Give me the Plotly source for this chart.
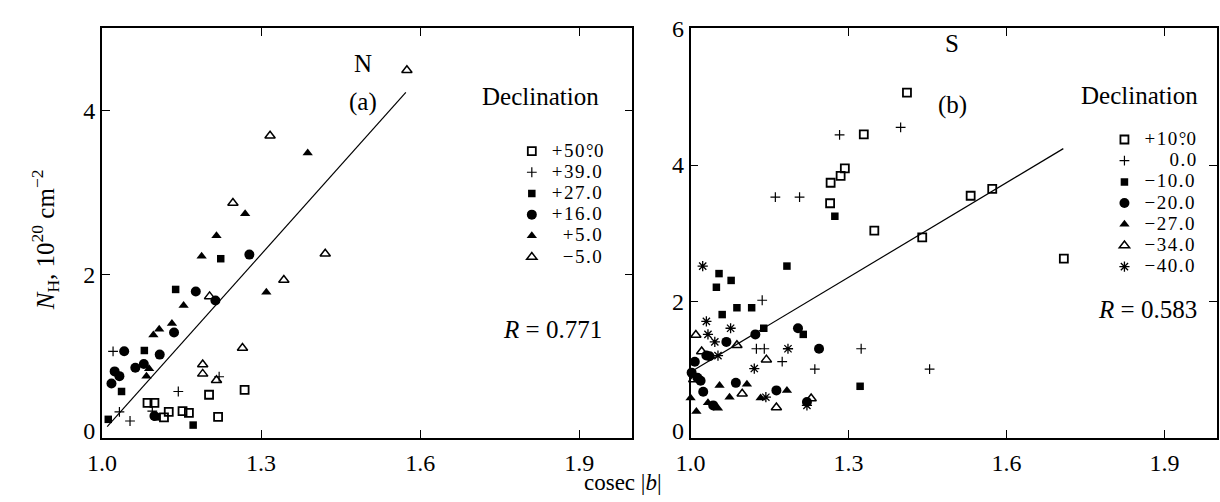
import plotly.graph_objects as go

# ---------------- Panel (a): North ----------------
N_p50_x = [1.086, 1.099, 1.117, 1.126, 1.152, 1.164, 1.202, 1.219, 1.269]
N_p50_y = [0.43, 0.43, 0.255, 0.32, 0.33, 0.31, 0.53, 0.26, 0.59]
N_p39_x = [1.021, 1.033, 1.053, 1.095, 1.144, 1.221]
N_p39_y = [1.06, 0.32, 0.21, 0.33, 0.57, 0.75]
N_p27_x = [1.139, 1.080, 1.037, 1.103, 1.172, 1.012, 1.224]
N_p27_y = [1.815, 1.07, 0.57, 0.26, 0.16, 0.23, 2.19]
N_p16_x = [1.177, 1.214, 1.136, 1.042, 1.109, 1.079, 1.063, 1.024, 1.033, 1.018, 1.099, 1.278]
N_p16_y = [1.79, 1.68, 1.29, 1.06, 1.02, 0.906, 0.86, 0.815, 0.757, 0.667, 0.27, 2.24]
N_p5_x = [1.154, 1.132, 1.108, 1.097, 1.089, 1.084, 1.388, 1.270, 1.216, 1.188, 1.310]
N_p5_y = [1.62, 1.40, 1.33, 1.26, 0.847, 0.757, 3.48, 2.74, 2.47, 2.22, 1.78]
N_m5_x = [1.203, 1.265, 1.19, 1.19, 1.216, 1.575, 1.317, 1.247, 1.421, 1.343]
N_m5_y = [1.73, 1.10, 0.90, 0.785, 0.706, 4.49, 3.69, 2.87, 2.25, 1.93]
N_fit_x = [1.01, 1.573]
N_fit_y = [0.14, 4.22]
N_labels = ["+50<span style='letter-spacing:-6px'>\u00b0</span>.0", "+39.0", "+27.0", "+16.0",
            "\u2002+5.0", "\u2002\u22125.0"]
N_y_ticks = [0, 2, 4]

# ---------------- Panel (b): South ----------------
S_p10_x = [1.411, 1.329, 1.293, 1.285, 1.266, 1.265, 1.349, 1.532, 1.573, 1.44, 1.709]
S_p10_y = [5.06, 4.45, 3.95, 3.84, 3.74, 3.44, 3.04, 3.55, 3.65, 2.94, 2.63]
S_0_x = [1.399, 1.283, 1.161, 1.207, 1.136, 1.125, 1.14, 1.174, 1.236, 1.324, 1.454]
S_0_y = [4.55, 4.44, 3.53, 3.53, 2.02, 1.31, 1.31, 1.12, 1.01, 1.31, 1.01]
S_m10_x = [1.274, 1.183, 1.054, 1.077, 1.049, 1.088, 1.116, 1.060, 1.139, 1.214, 1.322]
S_m10_y = [3.25, 2.52, 2.41, 2.31, 2.21, 1.91, 1.91, 1.81, 1.61, 1.52, 0.76]
S_m20_x = [1.204, 1.244, 1.123, 1.068, 1.030, 1.036, 1.008, 1.002, 1.013, 1.019, 1.024, 1.086, 1.163, 1.043, 1.221]
S_m20_y = [1.61, 1.31, 1.52, 1.41, 1.21, 1.20, 1.12, 0.96, 0.885, 0.84, 0.68, 0.81, 0.70, 0.48, 0.53]
S_m27_x = [1.0, 1.011, 1.033, 1.052, 1.055, 1.074, 1.107, 1.133, 1.183]
S_m27_y = [0.59, 0.39, 0.52, 0.44, 0.77, 0.60, 0.79, 0.59, 0.70]
S_m34_x = [1.010, 1.021, 1.088, 1.144, 1.006, 1.098, 1.163, 1.229]
S_m34_y = [1.51, 1.27, 1.36, 1.15, 0.86, 0.65, 0.45, 0.58]
S_m40_x = [1.023, 1.030, 1.076, 1.033, 1.046, 1.052, 1.185, 1.121, 1.143, 1.221]
S_m40_y = [2.52, 1.71, 1.61, 1.52, 1.41, 1.21, 1.31, 1.02, 0.60, 0.48]
S_fit_x = [1.0, 1.708]
S_fit_y = [0.97, 4.24]
S_labels = ["+10<span style='letter-spacing:-6px'>\u00b0</span>.0", "\u2002\u2002\u200a0.0",
            "\u221210.0", "\u221220.0", "\u221227.0", "\u221234.0", "\u221240.0"]
S_y_ticks = [0, 2, 4, 6]

x_ticks = [1.0, 1.3, 1.6, 1.9]
x_tick_text = ["1.0", "1.3", "1.6", "1.9"]

FONT = "Liberation Serif"
W, H = 1220, 502

STY = {
    "sq_open": dict(symbol="square-open", size=8, line=dict(width=1.8, color="black"), color="black"),
    "plus": dict(symbol="cross-thin-open", size=7, line=dict(width=1.2, color="black"), color="black"),
    "sq": dict(symbol="square", size=7.5, color="black", line=dict(width=0)),
    "circ": dict(symbol="circle", size=10, color="black", line=dict(width=0)),
    "tri": dict(symbol="triangle-up", size=9, color="black", line=dict(width=0)),
    "tri_open": dict(symbol="triangle-up-open", size=9, line=dict(width=1.5, color="black"), color="black"),
    "ast": dict(symbol="asterisk-open", size=8.5, line=dict(width=1.3, color="black"), color="black"),
}


def lab(t):
    # pull the label closer to its key (negative spacing after a no-break space)
    return ("<span style='font-size:19px;letter-spacing:1.5px'>"
            "<span style='letter-spacing:-16px'>\u00a0</span>" + t + "</span>")


def x_tick_labels(texts):
    # first label sits a little to the right of its tick, as in the original
    out = list(texts)
    out[0] = out[0] + "<span style='letter-spacing:-16px'>\u00a0</span>"
    return out


def y_tick_labels(vals):
    # the corner "0" is raised a little above its tick, as in the original
    out = [str(v) for v in vals]
    out[0] = "<span style='baseline-shift:8px'>" + out[0] + "</span>"
    return out


fig = go.Figure()

N_series = [
    (N_p50_x, N_p50_y, "sq_open"),
    (N_p39_x, N_p39_y, "plus"),
    (N_p27_x, N_p27_y, "sq"),
    (N_p16_x, N_p16_y, "circ"),
    (N_p5_x, N_p5_y, "tri"),
    (N_m5_x, N_m5_y, "tri_open"),
]
for (xs, ys, st), name in zip(N_series, N_labels):
    fig.add_trace(go.Scatter(x=xs, y=ys, mode="markers", marker=STY[st], name=lab(name),
                             xaxis="x", yaxis="y", legend="legend", cliponaxis=False))
fig.add_trace(go.Scatter(x=N_fit_x, y=N_fit_y, mode="lines", line=dict(color="black", width=1.2),
                         showlegend=False, xaxis="x", yaxis="y"))

S_series = [
    (S_p10_x, S_p10_y, "sq_open"),
    (S_0_x, S_0_y, "plus"),
    (S_m10_x, S_m10_y, "sq"),
    (S_m20_x, S_m20_y, "circ"),
    (S_m27_x, S_m27_y, "tri"),
    (S_m34_x, S_m34_y, "tri_open"),
    (S_m40_x, S_m40_y, "ast"),
]
for (xs, ys, st), name in zip(S_series, S_labels):
    fig.add_trace(go.Scatter(x=xs, y=ys, mode="markers", marker=STY[st], name=lab(name),
                             xaxis="x2", yaxis="y2", legend="legend2", cliponaxis=False))
fig.add_trace(go.Scatter(x=S_fit_x, y=S_fit_y, mode="lines", line=dict(color="black", width=1.2),
                         showlegend=False, xaxis="x2", yaxis="y2"))

y_bot = (H - 441) / H
y_top = (H - 16) / H

axis_common = dict(
    showline=True, linecolor="black", linewidth=1.5, mirror="ticks",
    ticks="inside", ticklen=8, tickwidth=1.2, tickcolor="black",
    showgrid=False, zeroline=False,
    tickfont=dict(family=FONT, size=24, color="black"),
)

fig.update_layout(
    width=W, height=H,
    margin=dict(l=0, r=0, t=0, b=0),
    paper_bgcolor="white", plot_bgcolor="white",
    font=dict(family=FONT, color="black"),
    xaxis=dict(domain=[88 / W, 625 / W], range=[1.0, 2.0], tickvals=x_ticks,
               ticktext=x_tick_labels(x_tick_text), ticklabelstandoff=2, anchor="y", **axis_common),
    yaxis=dict(domain=[y_bot, y_top], range=[0, 5], tickvals=N_y_ticks,
               ticktext=y_tick_labels(N_y_ticks), anchor="x", **axis_common),
    xaxis2=dict(domain=[684 / W, 1217 / W], range=[1.0, 2.0], tickvals=x_ticks,
                ticktext=x_tick_labels(x_tick_text), ticklabelstandoff=2, anchor="y2", **axis_common),
    yaxis2=dict(domain=[y_bot, y_top], range=[0, 6], tickvals=S_y_ticks,
                ticktext=y_tick_labels(S_y_ticks), anchor="x2", **axis_common),
    legend=dict(x=503 / W, y=(H - 127) / H, xanchor="left", yanchor="top",
                bgcolor="rgba(0,0,0,0)", borderwidth=0, font=dict(family=FONT, size=14, color="black"),
                itemclick=False, itemdoubleclick=False),
    legend2=dict(x=1103 / W, y=(H - 115) / H, xanchor="left", yanchor="top",
                 bgcolor="rgba(0,0,0,0)", borderwidth=0, font=dict(family=FONT, size=14, color="black"),
                 itemclick=False, itemdoubleclick=False),
    showlegend=True,
)

ann = []


def add_text(txt, px, py, size=25, xanchor="center", angle=0):
    ann.append(dict(text=txt, x=px / W, y=(H - py) / H, xref="paper", yref="paper",
                    xanchor=xanchor, yanchor="middle", showarrow=False, textangle=angle,
                    font=dict(family=FONT, size=size, color="black")))


add_text("N", 352, 52)
add_text("(a)", 352, 92)
add_text("Declination", 532, 87)
add_text("<i>R</i> = 0.771", 596, 328, xanchor="right")
add_text("S", 949, 32)
add_text("(b)", 949, 95)
add_text("Declination", 1139, 86)
add_text("<i>R</i> = 0.583", 1199, 308, xanchor="right")
add_text("cosec |<i>b</i>|", 616, 487, size=23)
add_text("<i>N</i><sub>H</sub>, 10<sup>20</sup> cm<sup>\u22122</sup>", 30, 235, size=25, angle=-90)

fig.update_layout(annotations=ann)

fig.write_html("out.html")
